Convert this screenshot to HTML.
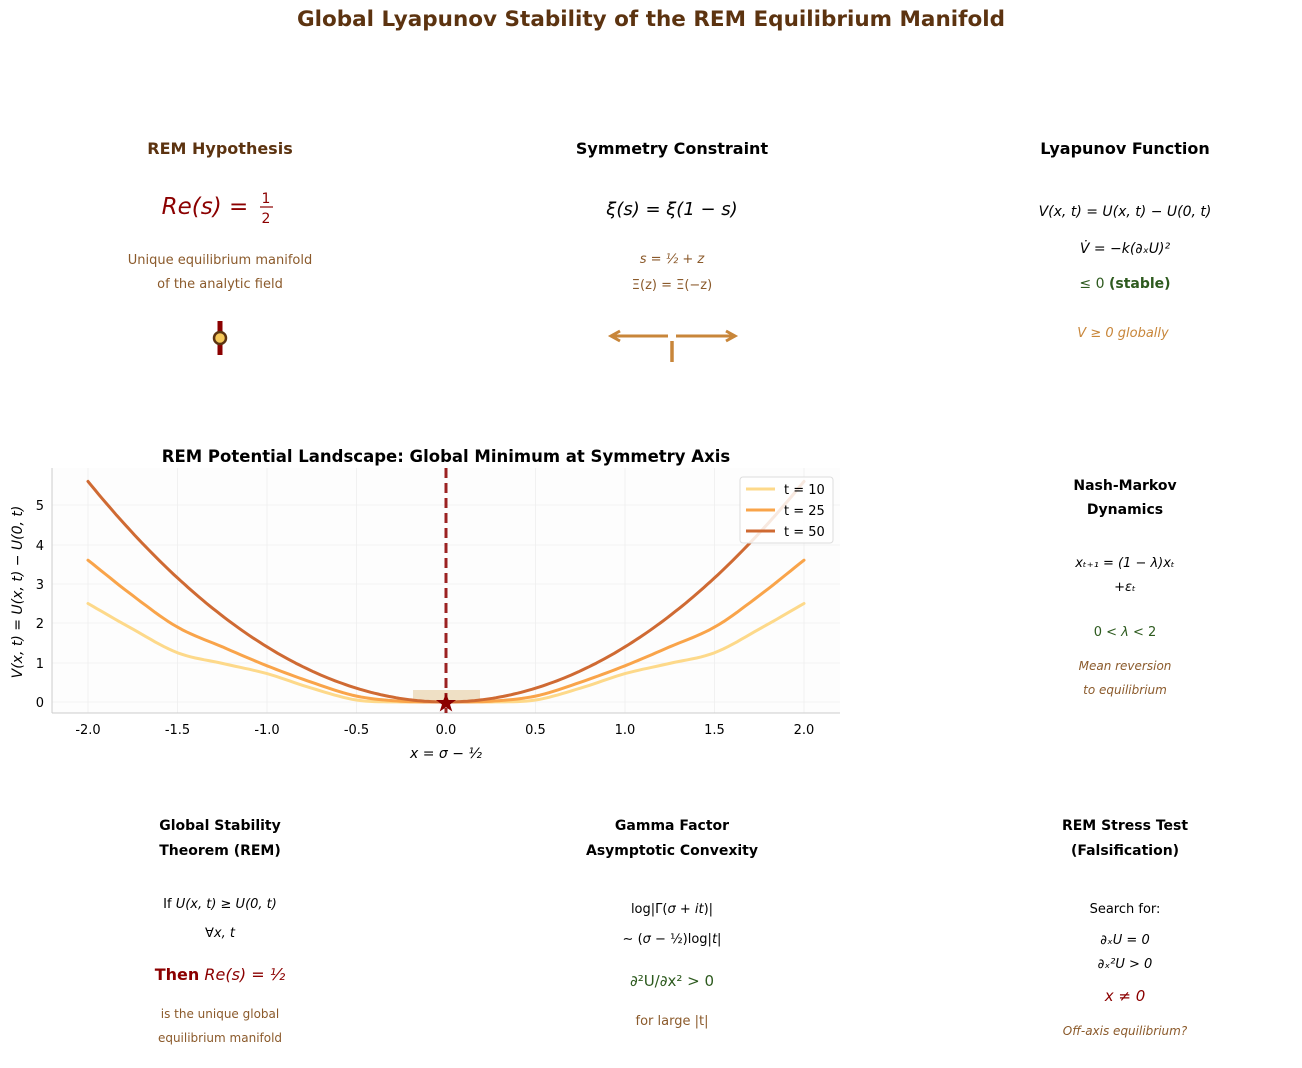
<!DOCTYPE html>
<html><head><meta charset="utf-8"><style>
body{margin:0;background:#fff;}
svg text{font-family:"DejaVu Sans","Liberation Sans",sans-serif;}
</style></head><body>
<svg id="s" width="1302" height="1063" xmlns="http://www.w3.org/2000/svg">
<text x="651" y="26" text-anchor="middle" font-size="21.5" font-weight="bold" fill="#5c3310">Global Lyapunov Stability of the REM Equilibrium Manifold</text>

<text x="220" y="154" text-anchor="middle" font-size="16" font-weight="bold" fill="#5c3310">REM Hypothesis</text>
<text x="205" y="214" text-anchor="middle" font-size="23" font-style="italic" fill="#8b0000">Re(s) =</text>
<text x="266" y="203" text-anchor="middle" font-size="14" fill="#8b0000">1</text>
<line x1="260" y1="207" x2="273" y2="207" stroke="#8b0000" stroke-width="1.2"/>
<text x="266" y="223" text-anchor="middle" font-size="14" fill="#8b0000">2</text>
<text x="220" y="264" text-anchor="middle" font-size="13" fill="#8b5a2b">Unique equilibrium manifold</text>
<text x="220" y="288" text-anchor="middle" font-size="13" fill="#8b5a2b">of the analytic field</text>
<line x1="220" y1="321" x2="220" y2="355" stroke="#8b0000" stroke-width="5"/>
<circle cx="220" cy="338" r="6" fill="#f5c85a" stroke="#5c3310" stroke-width="2.5"/>

<text x="672" y="154" text-anchor="middle" font-size="16" font-weight="bold" fill="#000">Symmetry Constraint</text>
<text x="672" y="215" text-anchor="middle" font-size="18" font-style="italic" fill="#000">ξ(s) = ξ(1 − s)</text>
<text x="672" y="263" text-anchor="middle" font-size="13" font-style="italic" fill="#8b5a2b">s = ½ + z</text>
<text x="672" y="289" text-anchor="middle" font-size="13" fill="#8b5a2b">Ξ(z) = Ξ(−z)</text>
<line x1="668" y1="336" x2="612" y2="336" stroke="#c8863a" stroke-width="3"/>
<polyline points="620,331 611,336 620,341" fill="none" stroke="#c8863a" stroke-width="3"/>
<line x1="676" y1="336" x2="734" y2="336" stroke="#c8863a" stroke-width="3"/>
<polyline points="726,331 735,336 726,341" fill="none" stroke="#c8863a" stroke-width="3"/>
<line x1="672" y1="341" x2="672" y2="362" stroke="#c8863a" stroke-width="3.5"/>

<text x="1125" y="154" text-anchor="middle" font-size="16" font-weight="bold" fill="#000">Lyapunov Function</text>
<text x="1125" y="216" text-anchor="middle" font-size="14" font-style="italic" fill="#000">V(x, t) = U(x, t) − U(0, t)</text>
<text x="1125" y="253" text-anchor="middle" font-size="14" font-style="italic" fill="#000">V̇ = −k(∂ₓU)²</text>
<text x="1125" y="288" text-anchor="middle" font-size="14" fill="#2d5a1e">≤ 0 <tspan font-weight="bold">(stable)</tspan></text>
<text x="1123" y="337" text-anchor="middle" font-size="13" font-style="italic" fill="#c8863a">V ≥ 0 globally</text>

<text x="446" y="462" text-anchor="middle" font-size="16.5" font-weight="bold" fill="#000">REM Potential Landscape: Global Minimum at Symmetry Axis</text>
<rect x="52" y="468" width="788" height="245" fill="#fdfdfd"/>
<g stroke="#eee" stroke-width="0.8">
<line x1="88" y1="468" x2="88" y2="713"/><line x1="177.5" y1="468" x2="177.5" y2="713"/><line x1="267" y1="468" x2="267" y2="713"/><line x1="356.5" y1="468" x2="356.5" y2="713"/><line x1="535.5" y1="468" x2="535.5" y2="713"/><line x1="625" y1="468" x2="625" y2="713"/><line x1="714.5" y1="468" x2="714.5" y2="713"/><line x1="804" y1="468" x2="804" y2="713"/>
<line x1="52" y1="702" x2="840" y2="702"/><line x1="52" y1="663" x2="840" y2="663"/><line x1="52" y1="623" x2="840" y2="623"/><line x1="52" y1="584" x2="840" y2="584"/><line x1="52" y1="545" x2="840" y2="545"/><line x1="52" y1="505" x2="840" y2="505"/>
</g>
<line x1="52" y1="468" x2="52" y2="713" stroke="#ccc"/>
<line x1="52" y1="713" x2="840" y2="713" stroke="#ccc"/>
<rect x="413" y="690" width="67" height="12" fill="#e8d3ad" opacity="0.7"/>
<g fill="none" stroke-width="3" stroke-linejoin="round" stroke-linecap="round">
<polyline id="c10" stroke="#fdd98a" points=""/>
<polyline id="c25" stroke="#f9a44a" points=""/>
<polyline id="c50" stroke="#cf6a33" points=""/>
</g>
<line x1="446" y1="468" x2="446" y2="713" stroke="#9b2222" stroke-width="3" stroke-dasharray="10,5"/>
<polygon points="446,693 448.6,700 456,700 450,704.5 452.3,711.5 446,707.2 439.7,711.5 442,704.5 436,700 443.4,700" fill="#8b0000"/>
<rect x="740" y="477" width="93" height="66" rx="3" fill="#fff" fill-opacity="0.85" stroke="#ddd"/>
<line x1="746" y1="489" x2="775" y2="489" stroke="#fdd98a" stroke-width="3"/><text x="784" y="494" font-size="13">t = 10</text>
<line x1="746" y1="510" x2="775" y2="510" stroke="#f9a44a" stroke-width="3"/><text x="784" y="515" font-size="13">t = 25</text>
<line x1="746" y1="531" x2="775" y2="531" stroke="#cf6a33" stroke-width="3"/><text x="784" y="536" font-size="13">t = 50</text>
<g font-size="13" text-anchor="end"><text x="44" y="707">0</text><text x="44" y="668">1</text><text x="44" y="628">2</text><text x="44" y="589">3</text><text x="44" y="550">4</text><text x="44" y="510">5</text></g>
<g font-size="13" text-anchor="middle"><text x="88" y="734">-2.0</text><text x="177.5" y="734">-1.5</text><text x="267" y="734">-1.0</text><text x="356.5" y="734">-0.5</text><text x="446" y="734">0.0</text><text x="535.5" y="734">0.5</text><text x="625" y="734">1.0</text><text x="714.5" y="734">1.5</text><text x="804" y="734">2.0</text></g>
<text x="446" y="758" text-anchor="middle" font-size="14" font-style="italic">x = σ − ½</text>
<text transform="translate(22,592) rotate(-90)" text-anchor="middle" font-size="14" font-style="italic">V(x, t) = U(x, t) − U(0, t)</text>

<text x="1125" y="490" text-anchor="middle" font-size="14" font-weight="bold">Nash-Markov</text>
<text x="1125" y="514" text-anchor="middle" font-size="14" font-weight="bold">Dynamics</text>
<text x="1125" y="567" text-anchor="middle" font-size="13" font-style="italic">xₜ₊₁ = (1 − λ)xₜ</text>
<text x="1125" y="591" text-anchor="middle" font-size="13" font-style="italic">+εₜ</text>
<text x="1125" y="636" text-anchor="middle" font-size="13" fill="#2d5a1e">0 &lt; <tspan font-style="italic">λ</tspan> &lt; 2</text>
<text x="1125" y="670" text-anchor="middle" font-size="12" font-style="italic" fill="#8b5a2b">Mean reversion</text>
<text x="1125" y="694" text-anchor="middle" font-size="12" font-style="italic" fill="#8b5a2b">to equilibrium</text>

<text x="220" y="830" text-anchor="middle" font-size="14" font-weight="bold">Global Stability</text>
<text x="220" y="855" text-anchor="middle" font-size="14" font-weight="bold">Theorem (REM)</text>
<text x="220" y="908" text-anchor="middle" font-size="13">If <tspan font-style="italic">U(x, t) ≥ U(0, t)</tspan></text>
<text x="220" y="937" text-anchor="middle" font-size="13" font-style="italic">∀x, t</text>
<text x="220" y="980" text-anchor="middle" font-size="16" fill="#8b0000"><tspan font-weight="bold">Then</tspan> <tspan font-style="italic">Re(s) = ½</tspan></text>
<text x="220" y="1018" text-anchor="middle" font-size="12" fill="#8b5a2b">is the unique global</text>
<text x="220" y="1042" text-anchor="middle" font-size="12" fill="#8b5a2b">equilibrium manifold</text>

<text x="672" y="830" text-anchor="middle" font-size="14" font-weight="bold">Gamma Factor</text>
<text x="672" y="855" text-anchor="middle" font-size="14" font-weight="bold">Asymptotic Convexity</text>
<text x="672" y="913" text-anchor="middle" font-size="13">log|Γ(<tspan font-style="italic">σ</tspan> + <tspan font-style="italic">it</tspan>)|</text>
<text x="672" y="943" text-anchor="middle" font-size="13">∼ (<tspan font-style="italic">σ</tspan> − ½)log|<tspan font-style="italic">t</tspan>|</text>
<text x="672" y="986" text-anchor="middle" font-size="15" fill="#2d5a1e">∂²U/∂x² &gt; 0</text>
<text x="672" y="1025" text-anchor="middle" font-size="13" fill="#8b5a2b">for large |t|</text>

<text x="1125" y="830" text-anchor="middle" font-size="14" font-weight="bold">REM Stress Test</text>
<text x="1125" y="855" text-anchor="middle" font-size="14" font-weight="bold">(Falsification)</text>
<text x="1125" y="913" text-anchor="middle" font-size="13">Search for:</text>
<text x="1125" y="944" text-anchor="middle" font-size="13" font-style="italic">∂ₓU = 0</text>
<text x="1125" y="968" text-anchor="middle" font-size="13" font-style="italic">∂ₓ²U &gt; 0</text>
<text x="1125" y="1001" text-anchor="middle" font-size="15" font-style="italic" fill="#8b0000">x ≠ 0</text>
<text x="1125" y="1035" text-anchor="middle" font-size="12" font-style="italic" fill="#8b5a2b">Off-axis equilibrium?</text>
</svg>
<script>
(function(){
var xs=[-2,-1.75,-1.5,-1.25,-1,-0.75,-0.5,-0.25,0,0.25,0.5,0.75,1,1.25,1.5,1.75,2];
var h10=[2.5,1.85,1.25,0.98,0.72,0.35,0.05,0,0];
var h25=[3.6,2.7,1.9,1.4,0.92,0.5,0.15,0.02,0];
function full(h){var a=h.slice();for(var i=7;i>=0;i--)a.push(h[i]);return a;}
function spline(v){var n=v.length,pts=[];for(var i=0;i<n-1;i++){
var p1=v[i],p2=v[i+1];
var p0=i>0?v[i-1]:2*v[0]-v[1];
var p3=i+2<n?v[i+2]:2*v[n-1]-v[n-2];
for(var k=0;k<10;k++){var t=k/10,t2=t*t,t3=t2*t;
var y=0.5*((2*p1)+(-p0+p2)*t+(2*p0-5*p1+4*p2-p3)*t2+(-p0+3*p1-3*p2+p3)*t3);
var x=xs[i]+0.25*t;pts.push([x,Math.max(y,0)]);}}
pts.push([2,v[n-1]]);return pts;}
function draw(id,pts){document.getElementById(id).setAttribute('points',pts.map(function(p){return (446+179*p[0]).toFixed(1)+','+(702-39.4*p[1]).toFixed(1);}).join(' '));}
draw('c10',spline(full(h10)));draw('c25',spline(full(h25)));
var p50=[];for(var x=-2;x<=2.0001;x+=0.02)p50.push([x,1.4*x*x]);draw('c50',p50);
})();
</script>
</body></html>
